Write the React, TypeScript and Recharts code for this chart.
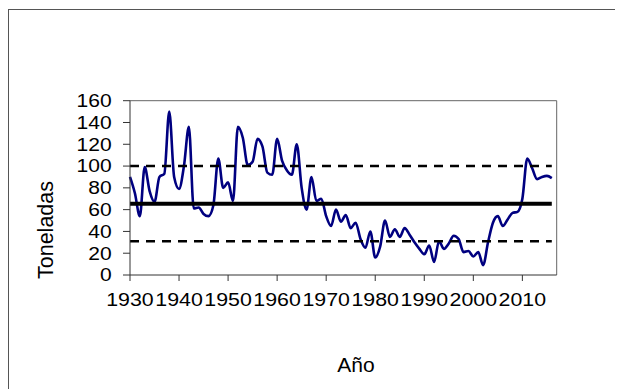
import { LineChart, Line, XAxis, YAxis, ReferenceLine, Label } from 'recharts';

// Toneladas por año, 1930-2016
const ANIOS = [
  1930, 1931, 1932, 1933, 1934, 1935, 1936, 1937, 1938, 1939,
  1940, 1941, 1942, 1943, 1944, 1945, 1946, 1947, 1948, 1949,
  1950, 1951, 1952, 1953, 1954, 1955, 1956, 1957, 1958, 1959,
  1960, 1961, 1962, 1963, 1964, 1965, 1966, 1967, 1968, 1969,
  1970, 1971, 1972, 1973, 1974, 1975, 1976, 1977, 1978, 1979,
  1980, 1981, 1982, 1983, 1984, 1985, 1986, 1987, 1988, 1989,
  1990, 1991, 1992, 1993, 1994, 1995, 1996, 1997, 1998, 1999,
  2000, 2001, 2002, 2003, 2004, 2005, 2006, 2007, 2008, 2009,
  2010, 2011, 2012, 2013, 2014, 2015, 2016,
];

const TONELADAS = [
  90, 75, 54, 99, 77, 67, 90, 93, 150, 90,
  79, 100, 136, 61, 62, 56, 54, 64, 107, 80,
  85, 68, 136, 126, 101, 104, 125, 118, 94, 92,
  125, 105, 96, 92, 120, 80, 60, 90, 68, 70,
  54, 45, 60, 49, 55, 43, 48, 33, 25, 40,
  16, 26, 50, 35, 42, 35, 43, 37, 30, 24,
  19, 27, 12, 31, 24, 29, 36, 33, 21, 22,
  17, 21, 9, 30, 48, 54, 45, 51, 57, 58,
  70, 107, 98, 88, 90, 91, 89,
];

const MEDIA = 65.5;
const LIMITE_SUP = 100;
const LIMITE_INF = 31;

const X_TICKS = [1930, 1940, 1950, 1960, 1970, 1980, 1990, 2000, 2010];
const Y_TICKS = [0, 20, 40, 60, 80, 100, 120, 140, 160];

const data = ANIOS.map((anio, i) => ({
  anio,
  toneladas: TONELADAS[i],
  media: MEDIA,
  sup: LIMITE_SUP,
  inf: LIMITE_INF,
}));

const FONT = '"Liberation Sans", Arial, sans-serif';

const XTick = (props: any) => {
  const { x, payload } = props;
  return (
    <text
      x={x}
      y={297.5}
      textAnchor="middle"
      fontSize={17.5}
      fontFamily={FONT}
      fill="#000"
      textLength={47.5}
      lengthAdjust="spacingAndGlyphs"
    >
      {payload.value}
    </text>
  );
};

const YTick = (props: any) => {
  const { y, payload } = props;
  const s = String(payload.value);
  return (
    <text
      x={103.7}
      y={y + 6.3}
      textAnchor="end"
      fontSize={17.5}
      fontFamily={FONT}
      fill="#000"
      textLength={11.7 * s.length}
      lengthAdjust="spacingAndGlyphs"
    >
      {s}
    </text>
  );
};

const tituloX = () => (
  <text x={348} y={364} textAnchor="middle" fontSize={21} fontFamily={FONT} fill="#000">
    Año
  </text>
);

const tituloY = () => (
  <text
    x={45}
    y={222}
    textAnchor="middle"
    fontSize={21.5}
    fontFamily={FONT}
    fill="#000"
    transform="rotate(-90, 45, 222)"
  >
    Toneladas
  </text>
);

export default function App() {
  return (
    <div
      style={{
        position: 'relative',
        width: 615,
        height: 380,
        marginTop: 1,
        borderLeft: '1px solid #555',
        borderTop: '1px solid #555',
      }}
    >
      <div style={{ position: 'absolute', left: -1, top: -2 }}>
        <LineChart
          width={615}
          height={381}
          data={data}
          margin={{ top: 92.7, right: 66.3, bottom: 84, left: 0 }}
        >
          <XAxis
            dataKey="anio"
            type="number"
            domain={[1930, 2017]}
            ticks={X_TICKS}
            interval={0}
            tick={<XTick />}
            tickSize={6}
            height={30}
            stroke="#333"
            tickLine={{ stroke: '#333' }}
            label={<Label content={tituloX} />}
          />
          <YAxis
            type="number"
            domain={[0, 160]}
            ticks={Y_TICKS}
            interval={0}
            tick={<YTick />}
            tickSize={7}
            width={122}
            stroke="#333"
            tickLine={{ stroke: '#333' }}
            label={<Label content={tituloY} />}
          />
          <ReferenceLine y={160} stroke="#666" strokeWidth={1} />
          <ReferenceLine x={2017} stroke="#666" strokeWidth={1} />
          <Line
            dataKey="toneladas"
            type="monotone"
            stroke="#000080"
            strokeWidth={2.6}
            dot={false}
            isAnimationActive={false}
          />
          <Line
            dataKey="sup"
            type="linear"
            stroke="#000"
            strokeWidth={2.5}
            strokeDasharray="9 7"
            dot={false}
            isAnimationActive={false}
          />
          <Line
            dataKey="inf"
            type="linear"
            stroke="#000"
            strokeWidth={2.5}
            strokeDasharray="9 7"
            dot={false}
            isAnimationActive={false}
          />
          <Line
            dataKey="media"
            type="linear"
            stroke="#000"
            strokeWidth={4}
            dot={false}
            isAnimationActive={false}
          />
        </LineChart>
      </div>
    </div>
  );
}
